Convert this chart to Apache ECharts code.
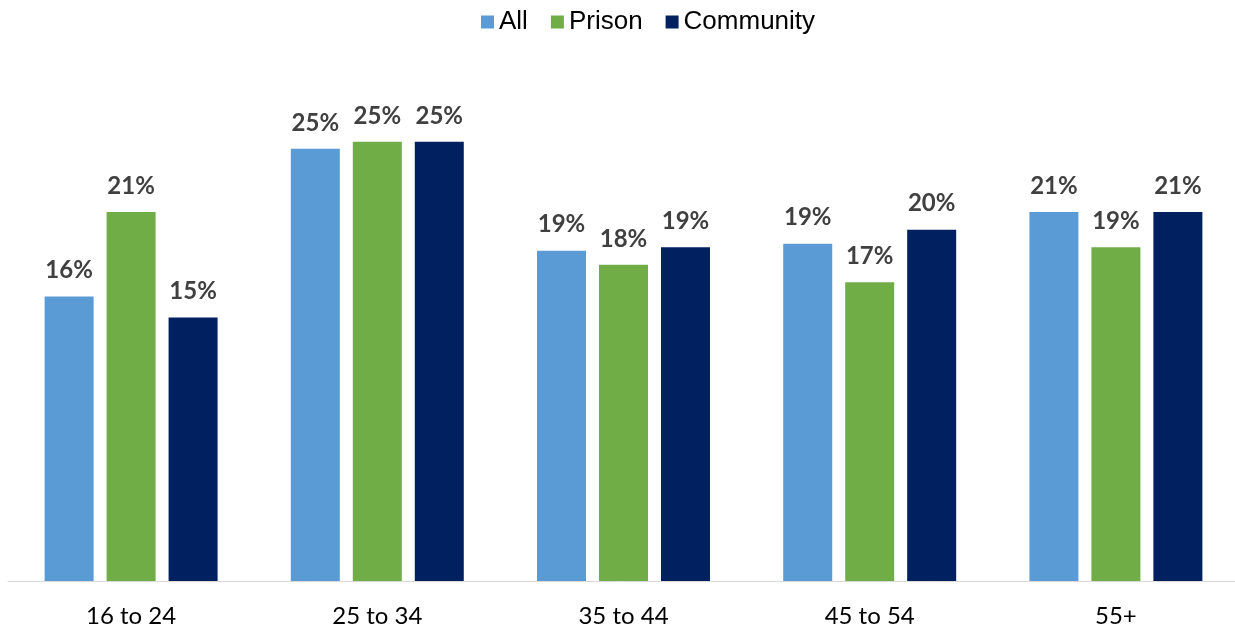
<!DOCTYPE html>
<html>
<head>
<meta charset="utf-8">
<script src="https://cdn.jsdelivr.net/npm/echarts@6/dist/echarts.min.js"></script>
<style>html,body{margin:0;padding:0;background:#fff;overflow:hidden}#c{width:1240px;height:633px}</style>
</head>
<body>
<div id="c"></div>
<script>
const categories = ['16 to 24', '25 to 34', '35 to 44', '45 to 54', '55+'];
const seriesNames = ['All', 'Prison', 'Community'];
const allValues = [16.2, 24.6, 18.8, 19.2, 21.0];
const prisonValues = [21.0, 25.0, 18.0, 17.0, 19.0];
const communityValues = [15.0, 25.0, 19.0, 20.0, 21.0];
const colors = ['#5B9BD5', '#70AD47', '#002060'];

const chart = echarts.init(document.getElementById('c'));
const labelStyle = {
  show: true,
  position: 'top',
  distance: 14,
  color: '#404040',
  fontFamily: 'Lato',
  fontWeight: 'bold',
  fontSize: 24,
  formatter: p => Math.round(p.value) + '%'
};
const dataSets = [allValues, prisonValues, communityValues];
chart.setOption({
  animation: false,
  color: colors,
  legend: {
    top: 4,
    left: 476,
    itemWidth: 13,
    itemHeight: 13,
    itemGap: 23,
    icon: 'rect',
    textStyle: { fontFamily: 'Liberation Sans', fontSize: 26, color: '#000' },
    data: seriesNames
  },
  grid: { left: 8, width: 1231, top: 54, bottom: 52, containLabel: false },
  xAxis: {
    type: 'category',
    data: categories,
    axisLine: { lineStyle: { color: '#d9d9d9', width: 1 } },
    axisTick: { show: false },
    axisLabel: { fontFamily: 'Lato', fontSize: 24, color: '#000', margin: 23 }
  },
  yAxis: {
    type: 'value',
    min: 0,
    max: 30,
    show: false,
    splitLine: { show: false }
  },
  series: seriesNames.map((n, i) => ({
    name: n,
    type: 'bar',
    data: dataSets[i],
    barWidth: 49,
    barGap: '26.5%',
    label: labelStyle,
    itemStyle: { color: colors[i] }
  }))
});
</script>
</body>
</html>
